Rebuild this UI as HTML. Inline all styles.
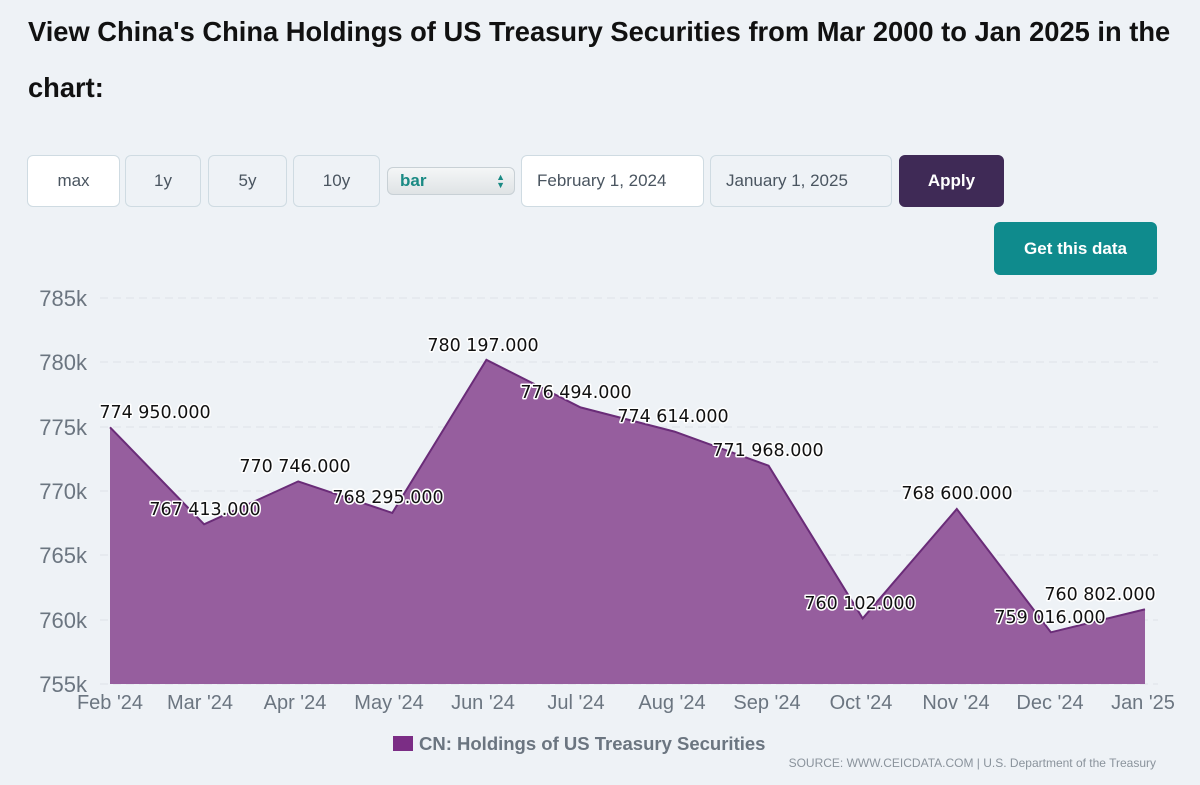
<!DOCTYPE html>
<html><head><meta charset="utf-8"><style>
body{margin:0;width:1200px;height:785px;background:#eef2f6;font-family:"Liberation Sans",sans-serif;overflow:hidden;position:relative}
h1{position:absolute;left:28px;top:4px;margin:0;width:1172px;font-size:27.3px;line-height:56px;font-weight:bold;color:#111}
.b{position:absolute;top:155px;height:52px;border:1px solid #cfdbe2;border-radius:6px;box-sizing:border-box;display:flex;align-items:center;justify-content:center;font-size:17px;color:#4a5560;background:#eef2f6}
</style></head><body>
<h1>View China's China Holdings of US Treasury Securities from Mar 2000 to Jan 2025 in the chart:</h1>
<div class="b" style="left:27px;width:93px;background:#fff">max</div>
<div class="b" style="left:125px;width:76px">1y</div>
<div class="b" style="left:208px;width:79px">5y</div>
<div class="b" style="left:293px;width:87px">10y</div>
<div class="b" style="left:387px;top:167px;height:28px;width:128px;justify-content:flex-start;padding-left:12px;color:#1a8a84;font-weight:bold;background:linear-gradient(#f4f6f7,#dfe3e5);border-color:#c8d0d5">bar<span style="position:absolute;right:9px;font-size:9px;line-height:8px;color:#1a8a84">&#9650;<br>&#9660;</span></div>
<div class="b" style="left:521px;width:183px;background:#fff;justify-content:flex-start;padding-left:15px">February 1, 2024</div>
<div class="b" style="left:710px;width:182px;justify-content:flex-start;padding-left:15px">January 1, 2025</div>
<div class="b" style="left:899px;width:105px;background:#3f2a56;border-color:#3f2a56;color:#fff;font-weight:bold">Apply</div>
<div class="b" style="left:994px;top:222px;height:53px;width:163px;background:#0f8b8d;border-color:#0f8b8d;color:#fff;font-weight:bold">Get this data</div>
<svg width="1200" height="785" style="position:absolute;left:0;top:0" font-family="Liberation Sans, sans-serif">
<g stroke="#dde3e8" stroke-dasharray="8,5" stroke-width="1">
<line x1="100" x2="1158" y1="298" y2="298"/><line x1="100" x2="1158" y1="362" y2="362"/><line x1="100" x2="1158" y1="427" y2="427"/><line x1="100" x2="1158" y1="491" y2="491"/><line x1="100" x2="1158" y1="555" y2="555"/><line x1="100" x2="1158" y1="620" y2="620"/><line x1="100" x2="1158" y1="684" y2="684"/>
</g>
<g fill="#6b7580" font-size="22" text-anchor="end">
<text x="87" y="306">785k</text><text x="87" y="370">780k</text><text x="87" y="435">775k</text><text x="87" y="499">770k</text><text x="87" y="563">765k</text><text x="87" y="628">760k</text><text x="87" y="692">755k</text>
</g>
<polygon fill="#965e9e" points="110,684 110,427.3 204.1,524.3 298.2,481.4 392.3,512.9 486.4,359.8 580.5,407.4 674.5,431.6 768.6,465.7 862.7,618.4 956.8,509 1050.9,632.3 1145,609.3 1145,684"/>
<polyline fill="none" stroke="#6a2c78" stroke-width="2" points="110,427.3 204.1,524.3 298.2,481.4 392.3,512.9 486.4,359.8 580.5,407.4 674.5,431.6 768.6,465.7 862.7,618.4 956.8,509 1050.9,632.3 1145,609.3"/>
<g font-family="DejaVu Sans, sans-serif" font-size="17.5" text-anchor="middle" fill="#111" stroke="#fff" stroke-width="3" paint-order="stroke" stroke-linejoin="round">
<text x="155" y="418">774 950.000</text><text x="205" y="515">767 413.000</text><text x="295" y="472">770 746.000</text><text x="388" y="503">768 295.000</text><text x="483" y="351">780 197.000</text><text x="576" y="398">776 494.000</text><text x="673" y="422">774 614.000</text><text x="768" y="456">771 968.000</text><text x="860" y="609">760 102.000</text><text x="957" y="499">768 600.000</text><text x="1050" y="623">759 016.000</text><text x="1100" y="600">760 802.000</text>
</g>
<g fill="#6b7580" font-size="20" text-anchor="middle">
<text x="110" y="709">Feb '24</text><text x="200" y="709">Mar '24</text><text x="295" y="709">Apr '24</text><text x="389" y="709">May '24</text><text x="483" y="709">Jun '24</text><text x="576" y="709">Jul '24</text><text x="672" y="709">Aug '24</text><text x="767" y="709">Sep '24</text><text x="861" y="709">Oct '24</text><text x="956" y="709">Nov '24</text><text x="1050" y="709">Dec '24</text><text x="1143" y="709">Jan '25</text>
</g>
<rect x="393" y="736" width="20" height="15" fill="#7b2d85"/>
<text x="419" y="750" font-size="18.5" font-weight="bold" fill="#6b7580">CN: Holdings of US Treasury Securities</text>
<text x="1156" y="767" font-size="12" fill="#8a939c" text-anchor="end">SOURCE: WWW.CEICDATA.COM | U.S. Department of the Treasury</text>
</svg>
</body></html>
